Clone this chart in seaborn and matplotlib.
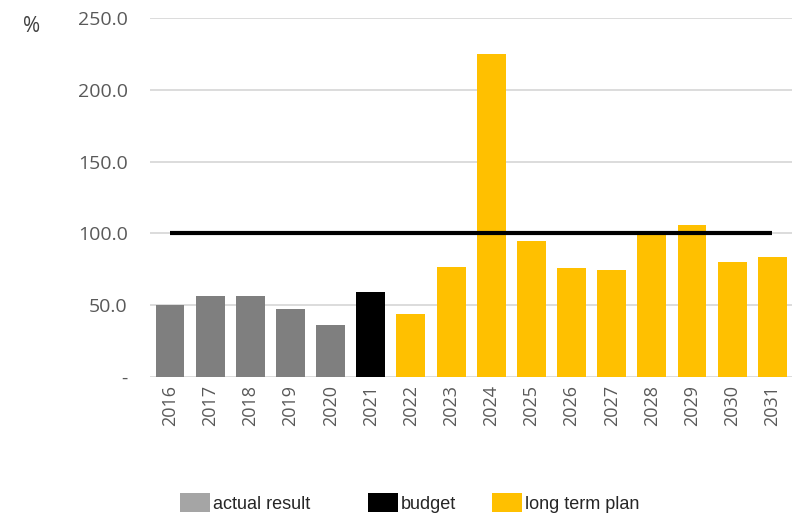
import matplotlib
matplotlib.use("Agg")
import matplotlib.pyplot as plt
import seaborn as sns
import pandas as pd
from matplotlib.patches import Patch
from matplotlib.ticker import FuncFormatter

years = [str(y) for y in range(2016, 2032)]
values = [50.5, 56.3, 56.3, 47.2, 36.1, 59.0, 44.2, 76.6, 224.8, 95.1, 76.2, 74.3, 100.4, 105.6, 79.9, 83.8]
groups = ["actual result"] * 5 + ["budget"] + ["long term plan"] * 10
target = 100.0
bar_colors = {"actual result": "#7F7F7F", "budget": "#000000", "long term plan": "#FFC000"}
legend_colors = {"actual result": "#A5A5A5", "budget": "#000000", "long term plan": "#FFC000"}
legend_labels = ["actual result", "budget", "long term plan"]
yticks = [0, 50, 100, 150, 200, 250]

df = pd.DataFrame({"year": years, "value": values, "group": groups})

sns.set_theme(style="white")
plt.rcParams["font.family"] = ["Open Sans", "DejaVu Sans"]

fig = plt.figure(figsize=(7.96, 5.2), dpi=100)
ax = fig.add_axes([0.1884, 0.275, 0.807, 0.690])

sns.barplot(data=df, x="year", y="value", hue="group", palette=bar_colors,
            dodge=False, width=0.72, ax=ax, legend=False, zorder=3,
            edgecolor="none", saturation=1)

ax.plot([years[0], years[-1]], [target, target], color="black", lw=3, zorder=4,
        solid_capstyle="butt")

ax.set_ylim(0, 250)
ax.set_xlim(-0.5, len(years) - 0.5)
ax.set_yticks(yticks)
ax.yaxis.set_major_formatter(FuncFormatter(lambda v, p: "-" if v == 0 else f"{v:.1f}"))
ax.grid(axis="y", color="#D9D9D9", lw=1.3, zorder=0)
for s in ax.spines.values():
    s.set_visible(False)
ax.tick_params(axis="y", length=0, pad=16, labelsize=14, labelcolor="#595959")
ax.tick_params(axis="x", length=0, pad=6, labelsize=13, labelcolor="#595959", rotation=90)
ax.set_xlabel("")
ax.set_ylabel("")

fig.text(32 / 796, 1 - 27 / 520, "%", fontsize=15, color="#404040", ha="center", va="center")

legend_x = [180, 368, 492]
for lab, lx in zip(legend_labels, legend_x):
    h = Patch(facecolor=legend_colors[lab], edgecolor="none", label=lab)
    fig.legend(handles=[h], loc="center left", bbox_to_anchor=(lx / 796, 1 - 503 / 520),
               frameon=False, handlelength=1.67, handleheight=1.24,
               handletextpad=0.15, borderpad=0, borderaxespad=0,
               prop={"family": "Liberation Sans", "size": 13})

fig.savefig("out.png", dpi=100)
